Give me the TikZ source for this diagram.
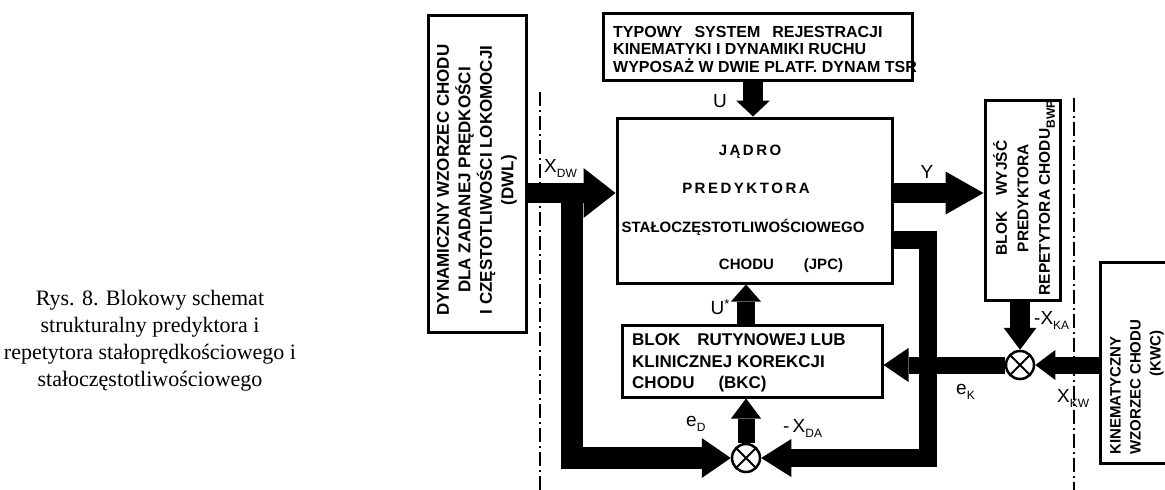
\documentclass[tikz,border=0pt]{standalone}
\usepackage{fontspec}
\setmainfont{Liberation Sans}
\newfontfamily\capfont{Liberation Serif}
\usetikzlibrary{arrows.meta,calc}
\newcommand{\sbs}[1]{\raisebox{-5pt}{\fontsize{12}{12}\selectfont #1}}
\begin{document}
\begin{tikzpicture}[x=1pt,y=-1pt,
  blk/.style={draw, line width=3pt, inner sep=0pt},
  btxt/.style={font=\fontsize{15}{21}\selectfont\bfseries, inner sep=0pt, align=center},
  fat/.style n args={3}{draw, line width=#1pt, line join=miter, -{Triangle[width=#2pt,length=#3pt,line width=0pt]}},
  dd/.style={line width=1.6pt, dash pattern=on 14pt off 4pt on 2pt off 4pt},
  sumj/.style={circle, draw, line width=2.5pt, fill=white, minimum size=28pt, inner sep=0pt},
  lab/.style={font=\fontsize{19}{19}\selectfont, inner sep=0pt}
]
\useasboundingbox (0,0) rectangle (1165,490);
\clip (0,0) rectangle (1165,490);

% dash-dot boundary lines
\draw[dd] (540,92) -- (540,490);
\draw[dd] (1074,98) -- (1074,490);

% caption
\node[font=\capfont\fontsize{22}{27}\selectfont, align=center, inner sep=0pt] (cap) at (150,341)
  {Rys. 8. Blokowy schemat\\strukturalny predyktora i\\repetytora stałoprędkościowego i\\stałoczęstotliwościowego};

% blocks
\node[blk, minimum width=98pt, minimum height=317pt] (dwl) at (477,173.5) {};
\node[blk, minimum width=309pt, minimum height=67pt] (tsr) at (757.5,46.5) {};
\node[blk, minimum width=275pt, minimum height=165pt] (jpc) at (754.5,200.5) {};
\node[blk, minimum width=260pt, minimum height=72pt] (bkc) at (752,361) {};
\node[blk, minimum width=75pt, minimum height=200pt] (bwp) at (1022.5,200) {};
\node[blk, minimum width=85pt, minimum height=201pt] (kwc) at (1142.5,362.5) {};

% block texts
\node[btxt, rotate=90, font=\fontsize{17}{21.5}\selectfont\bfseries] (tdwl) at (477,180)
  {DYNAMICZNY WZORZEC CHODU\\DLA ZADANEJ PRĘDKOŚCI\\I CZĘSTOTLIWOŚCI LOKOMOCJI\\(DWL)};
\node[btxt, anchor=west, align=left, font=\fontsize{16}{17.5}\selectfont\bfseries] (ttsr) at (613,49)
  {TYPOWY\hspace{12pt}SYSTEM\hspace{12pt}REJESTRACJI\\KINEMATYKI I DYNAMIKI RUCHU\\WYPOSAŻ W DWIE PLATF. DYNAM TSR};
\node[btxt] (tj1) at (750,152) {J\,Ą\,D\,R\,O};
\node[btxt] (tj2) at (746,188) {P\,R\,E\,D\,Y\,K\,T\,O\,R\,A};
\node[btxt] (tj3) at (743,227) {STAŁOCZĘSTOTLIWOŚCIOWEGO};
\node[btxt] (tj4) at (781,266) {CHODU\hspace{30pt}(JPC)};
\node[btxt, anchor=west, align=left, font=\fontsize{17}{21.5}\selectfont\bfseries] (tbkc) at (632,363)
  {BLOK\quad RUTYNOWEJ LUB\\KLINICZNEJ KOREKCJI\\CHODU\hspace{24pt}(BKC)};
\node[btxt, rotate=90, font=\fontsize{15.5}{21.5}\selectfont\bfseries] (tbwp) at (1024,198)
  {BLOK\quad WYJŚĆ\\PREDYKTORA\\REPETYTORA CHODU\sbs{BWP}};
\node[btxt, rotate=90, anchor=west, align=left, font=\fontsize{15}{20}\selectfont\bfseries] (tkwc) at (1137,455)
  {KINEMATYCZNY\\WZORZEC CHODU\\\hspace*{78pt}(KWC)};

% junctions
\node[sumj] (jd) at (746,458) {};
\node[sumj] (jk) at (1020,365) {};
\foreach \j in {jd,jk}{
  \draw[line width=2pt, shorten <=1.5pt, shorten >=1.5pt] (\j.north east) -- (\j.south west);
  \draw[line width=2pt, shorten <=1.5pt, shorten >=1.5pt] (\j.north west) -- (\j.south east);
}

% helper coordinates
\coordinate (ux) at (753,0);
\coordinate (yd) at (0,193);
\coordinate (br) at (572,193);
\coordinate (rc) at (928,240);

% connectors
\draw[fat={20}{34}{16}] (tsr.south -| ux) -- (jpc.north -| ux);
\draw[fat={20}{50}{32}] (dwl.east |- yd) -- (jpc.west |- yd);
\draw[fat={22}{40}{29}] (br) |- (jd.west);
\draw[fat={18}{38}{30}] (jpc.east |- rc) -- (rc) |- (jd.east);
\draw[fat={20}{43}{38}] (jpc.east |- yd) -- (bwp.west |- yd);
\draw[fat={18}{30}{17}] (bkc.north -| jd) -- (jpc.south -| jd);
\draw[fat={17}{30}{20}] (jd) -- (bkc.south -| jd);
\draw[fat={20}{33}{22}] (bwp.south -| jk) -- (jk);
\draw[fat={17}{34}{25}] (jk) -- (bkc.east |- jk);
\draw[fat={17}{30}{20}] (kwc.west |- jk) -- (jk);

% labels
\node[lab] (lU) at (720,101) {U};
\node[lab, anchor=west] (lXdw) at (544,168) {X\sbs{DW}};
\node[lab] (lY) at (927,172) {Y};
\node[lab] (lUs) at (720,307) {U\raisebox{6pt}{\fontsize{13}{13}\selectfont *}};
\node[lab, anchor=west] (leD) at (686,424) {e\sbs{D}};
\node[lab, anchor=west] (lXda) at (783,428) {-\,X\sbs{DA}};
\node[lab, anchor=west] (lXka) at (1034,320) {-X\sbs{KA}};
\node[lab, anchor=west] (leK) at (956,392) {e\sbs{K}};
\node[lab, anchor=west] (lXkw) at (1057,398) {X\sbs{KW}};
\end{tikzpicture}
\end{document}
